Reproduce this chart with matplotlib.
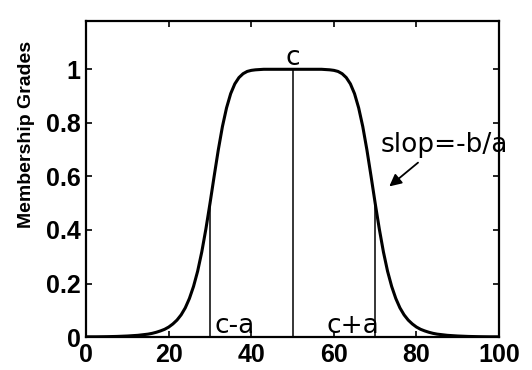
import matplotlib
matplotlib.use("Agg")
import matplotlib.pyplot as plt
import matplotlib.transforms as mtransforms

# 곡선 위의 점
x_vals = [0, 2.5, 5, 7.5, 10, 12.5, 15, 16, 17, 18, 19, 20, 21, 22, 23, 24, 25, 26, 27,
          28, 29, 30, 31, 32, 33, 34, 35, 36, 37, 38, 39, 40, 41, 42, 43, 44, 46, 50,
          54, 56, 57, 58, 59, 60, 61, 62, 63, 64, 65, 66, 67, 68, 69, 70, 71, 72, 73,
          74, 75, 76, 77, 78, 79, 80, 81, 82, 83, 84, 85, 87.5, 90, 92.5, 95, 97.5, 100]
y_vals = [0.001, 0.001, 0.0015, 0.0024, 0.004, 0.0065, 0.011, 0.014, 0.018, 0.023,
          0.029, 0.0375, 0.049, 0.0635, 0.083, 0.109, 0.144, 0.189, 0.246, 0.318,
          0.404, 0.5, 0.601, 0.699, 0.786, 0.856, 0.909, 0.9455, 0.969, 0.9835,
          0.992, 0.996, 0.998, 0.999, 1.0, 1.0, 1.0, 1.0,
          1.0, 1.0, 1.0, 0.999, 0.998, 0.996, 0.992, 0.9835, 0.969, 0.9455, 0.909,
          0.856, 0.786, 0.699, 0.601, 0.5, 0.404, 0.318, 0.246, 0.189, 0.144, 0.109,
          0.083, 0.0635, 0.049, 0.0375, 0.029, 0.023, 0.018, 0.014, 0.011, 0.0065,
          0.004, 0.0024, 0.0015, 0.001, 0.001]

# 세로선: c-a, c, c+a
mark_x = [30, 50, 70]
mark_y = [0.5, 1.0, 0.5]

x_ticks = [0, 20, 40, 60, 80, 100]
y_ticks = [0, 0.2, 0.4, 0.6, 0.8, 1]
y_tick_labels = ['0', '0.2', '0.4', '0.6', '0.8', '1']

fig = plt.figure(figsize=(5.32, 3.70), dpi=100)
ax = fig.add_axes([0.162, 0.089, 0.776, 0.854])

ax.plot(x_vals, y_vals, color='black', lw=2.2, solid_capstyle='round', solid_joinstyle='round')
for mx, my in zip(mark_x, mark_y):
    ax.plot([mx, mx], [0, my], color='black', lw=1.1)

ax.set_xlim(0, 100)
ax.set_ylim(0, 1.18)
ax.set_xticks(x_ticks)
ax.set_yticks(y_ticks)
ax.set_yticklabels(y_tick_labels)

for lab in ax.get_xticklabels() + ax.get_yticklabels():
    lab.set_fontfamily('Liberation Sans')
    lab.set_fontweight('bold')
    lab.set_fontsize(18)

# 마지막 x 눈금 라벨(100)은 왼쪽으로 약간 이동
last = ax.get_xticklabels()[-1]
last.set_transform(last.get_transform() + mtransforms.ScaledTranslation(-9 / 100, 0, fig.dpi_scale_trans))

ax.tick_params(direction='in', length=4, width=1.2, top=True, right=True, pad=4)
for s in ax.spines.values():
    s.set_linewidth(1.6)

ax.set_ylabel('Membership Grades', fontdict={'family': 'Liberation Sans', 'weight': 'bold', 'size': 14})
ax.yaxis.set_label_coords(-0.125, 0.64)

# 주석
ax.text(50, 1.015, 'c', ha='center', va='baseline', fontsize=19, family='DejaVu Sans')
ax.text(31.0, 0.015, 'c-a', ha='left', va='baseline', fontsize=19, family='DejaVu Sans')
ax.text(58.3, 0.015, 'c+a', ha='left', va='baseline', fontsize=19, family='DejaVu Sans')
ax.text(71.4, 0.69, 'slop=-b/a', ha='left', va='baseline', fontsize=19, family='DejaVu Sans')
ax.annotate('', xy=(72.9, 0.556), xytext=(80.9, 0.658),
            arrowprops=dict(arrowstyle='-|>', color='black', lw=1.3, mutation_scale=18))

fig.savefig('out.png', dpi=100)
